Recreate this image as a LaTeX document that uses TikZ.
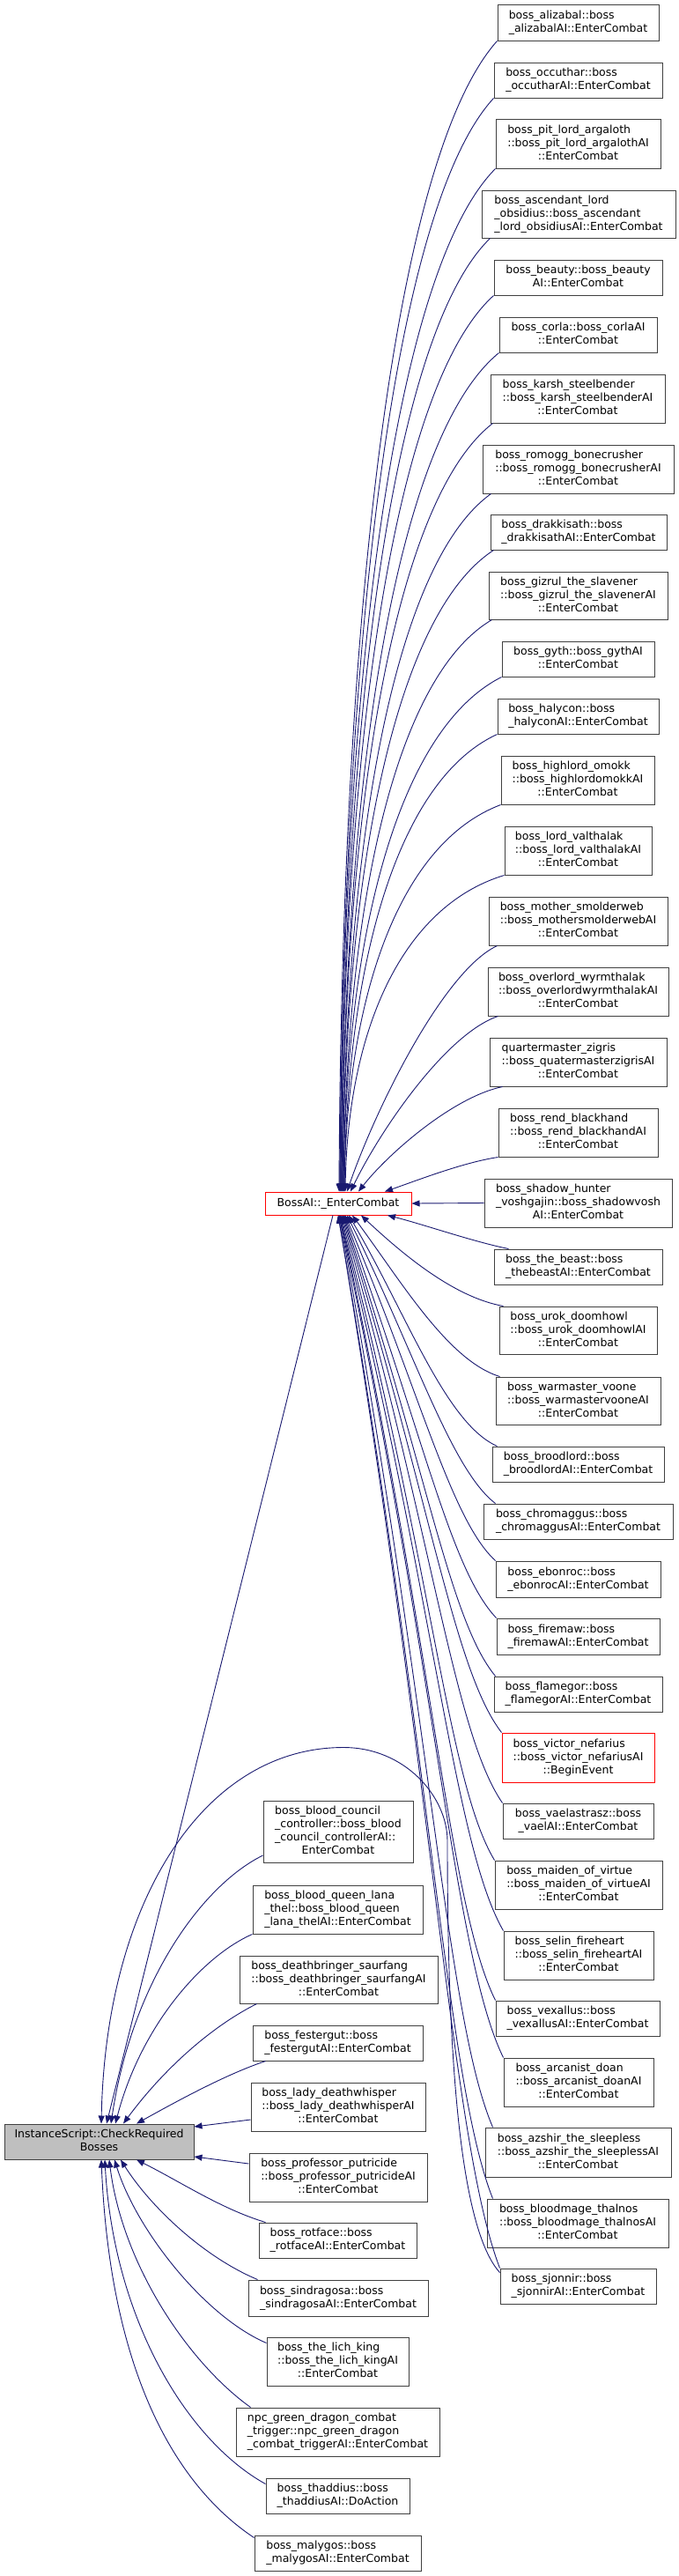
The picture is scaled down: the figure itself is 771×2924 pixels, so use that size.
\documentclass[tikz,border=0pt]{standalone}
\usepackage{fontspec}
\setmainfont{DejaVu Sans}
\usetikzlibrary{arrows.meta}
\definecolor{edgecol}{RGB}{25,25,112}
\definecolor{nodegray}{RGB}{191,191,191}
\newcommand\lbl[2]{\begin{tabular}{@{}l@{}}#1\\\multicolumn{1}{@{}c@{}}{#2}\end{tabular}}
\begin{document}
\begin{tikzpicture}[x=1pt,y=-1pt,
  box/.style={draw=black!75, line width=1pt, fill=white, inner sep=0pt, font=\fontsize{12.5}{15}\selectfont},
  redbox/.style={box, draw=red},
  graybox/.style={box, fill=nodegray},
  edge/.style={draw=edgecol, line width=0.9pt, arrows={Triangle[length=9pt,width=7pt]-}}]
\fill[white] (0,0) rectangle (771,2924);
\useasboundingbox (0,0) rectangle (771,2924);

% right column
\node[box, minimum width=183pt, minimum height=41pt] (n1) at (656.5,25.5) {\lbl{boss\_alizabal::boss}{\_alizabalAI::EnterCombat}};
\node[box, minimum width=191pt, minimum height=40pt] (n2) at (656.5,91) {\lbl{boss\_occuthar::boss}{\_occutharAI::EnterCombat}};
\node[box, minimum width=187pt, minimum height=56pt] (n3) at (656.5,163) {\lbl{boss\_pit\_lord\_argaloth\\::boss\_pit\_lord\_argalothAI}{::EnterCombat}};
\node[box, minimum width=220pt, minimum height=54pt] (n4) at (657,243) {\lbl{boss\_ascendant\_lord\\\_obsidius::boss\_ascendant}{\_lord\_obsidiusAI::EnterCombat}};
\node[box, minimum width=191pt, minimum height=40pt] (n5) at (656.5,315) {\lbl{boss\_beauty::boss\_beauty}{AI::EnterCombat}};
\node[box, minimum width=179pt, minimum height=40pt] (n6) at (656.5,380) {\lbl{boss\_corla::boss\_corlaAI}{::EnterCombat}};
\node[box, minimum width=198pt, minimum height=55pt] (n7) at (656,452.5) {\lbl{boss\_karsh\_steelbender\\::boss\_karsh\_steelbenderAI}{::EnterCombat}};
\node[box, minimum width=217pt, minimum height=55pt] (n8) at (656.5,532.5) {\lbl{boss\_romogg\_bonecrusher\\::boss\_romogg\_bonecrusherAI}{::EnterCombat}};
\node[box, minimum width=200pt, minimum height=40pt] (n9) at (657,604) {\lbl{boss\_drakkisath::boss}{\_drakkisathAI::EnterCombat}};
\node[box, minimum width=203pt, minimum height=54pt] (n10) at (656.5,676) {\lbl{boss\_gizrul\_the\_slavener\\::boss\_gizrul\_the\_slavenerAI}{::EnterCombat}};
\node[box, minimum width=173pt, minimum height=40pt] (n11) at (656.5,748) {\lbl{boss\_gyth::boss\_gythAI}{::EnterCombat}};
\node[box, minimum width=183pt, minimum height=40pt] (n12) at (656.5,813) {\lbl{boss\_halycon::boss}{\_halyconAI::EnterCombat}};
\node[box, minimum width=174pt, minimum height=55pt] (n13) at (656,885.5) {\lbl{boss\_highlord\_omokk\\::boss\_highlordomokkAI}{::EnterCombat}};
\node[box, minimum width=167pt, minimum height=55pt] (n14) at (656.5,965.5) {\lbl{boss\_lord\_valthalak\\::boss\_lord\_valthalakAI}{::EnterCombat}};
\node[box, minimum width=203pt, minimum height=55pt] (n15) at (656.5,1045.5) {\lbl{boss\_mother\_smolderweb\\::boss\_mothersmolderwebAI}{::EnterCombat}};
\node[box, minimum width=205pt, minimum height=55pt] (n16) at (656.5,1125.5) {\lbl{boss\_overlord\_wyrmthalak\\::boss\_overlordwyrmthalakAI}{::EnterCombat}};
\node[box, minimum width=201pt, minimum height=55pt] (n17) at (656.5,1205.5) {\lbl{quartermaster\_zigris\\::boss\_quatermasterzigrisAI}{::EnterCombat}};
\node[box, minimum width=181pt, minimum height=55pt] (n18) at (656.5,1285.5) {\lbl{boss\_rend\_blackhand\\::boss\_rend\_blackhandAI}{::EnterCombat}};
\node[box, minimum width=213pt, minimum height=55pt] (n19) at (656.5,1365.5) {\lbl{boss\_shadow\_hunter\\\_voshgajin::boss\_shadowvosh}{AI::EnterCombat}};
\node[box, minimum width=191pt, minimum height=40pt] (n20) at (656.5,1438) {\lbl{boss\_the\_beast::boss}{\_thebeastAI::EnterCombat}};
\node[box, minimum width=179pt, minimum height=54pt] (n21) at (656.5,1510) {\lbl{boss\_urok\_doomhowl\\::boss\_urok\_doomhowlAI}{::EnterCombat}};
\node[box, minimum width=187pt, minimum height=54pt] (n22) at (656.5,1590) {\lbl{boss\_warmaster\_voone\\::boss\_warmastervooneAI}{::EnterCombat}};
\node[box, minimum width=195pt, minimum height=40pt] (n23) at (656.5,1662) {\lbl{boss\_broodlord::boss}{\_broodlordAI::EnterCombat}};
\node[box, minimum width=215pt, minimum height=40pt] (n24) at (656.5,1727) {\lbl{boss\_chromaggus::boss}{\_chromaggusAI::EnterCombat}};
\node[box, minimum width=187pt, minimum height=41pt] (n25) at (656.5,1792.5) {\lbl{boss\_ebonroc::boss}{\_ebonrocAI::EnterCombat}};
\node[box, minimum width=185pt, minimum height=41pt] (n26) at (656.5,1857.5) {\lbl{boss\_firemaw::boss}{\_firemawAI::EnterCombat}};
\node[box, minimum width=191pt, minimum height=40pt] (n27) at (656.5,1923) {\lbl{boss\_flamegor::boss}{\_flamegorAI::EnterCombat}};
\node[redbox, minimum width=173pt, minimum height=56pt] (n28) at (656.5,1995) {\lbl{boss\_victor\_nefarius\\::boss\_victor\_nefariusAI}{::BeginEvent}};
\node[box, minimum width=171pt, minimum height=40pt] (n29) at (656.5,2067) {\lbl{boss\_vaelastrasz::boss}{\_vaelAI::EnterCombat}};
\node[box, minimum width=190pt, minimum height=55pt] (n30) at (657,2139.5) {\lbl{boss\_maiden\_of\_virtue\\::boss\_maiden\_of\_virtueAI}{::EnterCombat}};
\node[box, minimum width=170pt, minimum height=55pt] (n31) at (657,2219.5) {\lbl{boss\_selin\_fireheart\\::boss\_selin\_fireheartAI}{::EnterCombat}};
\node[box, minimum width=186pt, minimum height=40pt] (n32) at (656,2291) {\lbl{boss\_vexallus::boss}{\_vexallusAI::EnterCombat}};
\node[box, minimum width=170pt, minimum height=55pt] (n33) at (657,2363.5) {\lbl{boss\_arcanist\_doan\\::boss\_arcanist\_doanAI}{::EnterCombat}};
\node[box, minimum width=211pt, minimum height=56pt] (n34) at (656.5,2443) {\lbl{boss\_azshir\_the\_sleepless\\::boss\_azshir\_the\_sleeplessAI}{::EnterCombat}};
\node[box, minimum width=206pt, minimum height=55pt] (n35) at (656,2523.5) {\lbl{boss\_bloodmage\_thalnos\\::boss\_bloodmage\_thalnosAI}{::EnterCombat}};
\node[box, minimum width=177pt, minimum height=40pt] (n36) at (656.5,2595) {\lbl{boss\_sjonnir::boss}{\_sjonnirAI::EnterCombat}};

% central
\node[redbox, minimum width=166pt, minimum height=26pt] (boss) at (384,1366) {BossAI::\_EnterCombat};
\node[graybox, minimum width=215pt, minimum height=40pt] (inst) at (112.5,2431) {\lbl{InstanceScript::CheckRequired}{Bosses}};

% middle column
\node[box, minimum width=170pt, minimum height=70pt] (m1) at (384,2079) {\lbl{boss\_blood\_council\\\_controller::boss\_blood\\\_council\_controllerAI::}{EnterCombat}};
\node[box, minimum width=193pt, minimum height=55pt] (m2) at (383.5,2167.5) {\lbl{boss\_blood\_queen\_lana\\\_thel::boss\_blood\_queen}{\_lana\_thelAI::EnterCombat}};
\node[box, minimum width=225pt, minimum height=54pt] (m3) at (384.5,2247) {\lbl{boss\_deathbringer\_saurfang\\::boss\_deathbringer\_saurfangAI}{::EnterCombat}};
\node[box, minimum width=193pt, minimum height=40pt] (m4) at (383.5,2319) {\lbl{boss\_festergut::boss}{\_festergutAI::EnterCombat}};
\node[box, minimum width=198pt, minimum height=55pt] (m5) at (384,2391.5) {\lbl{boss\_lady\_deathwhisper\\::boss\_lady\_deathwhisperAI}{::EnterCombat}};
\node[box, minimum width=202pt, minimum height=55pt] (m6) at (384,2471.5) {\lbl{boss\_professor\_putricide\\::boss\_professor\_putricideAI}{::EnterCombat}};
\node[box, minimum width=179pt, minimum height=40pt] (m7) at (383.5,2543) {\lbl{boss\_rotface::boss}{\_rotfaceAI::EnterCombat}};
\node[box, minimum width=204pt, minimum height=41pt] (m8) at (384,2608.5) {\lbl{boss\_sindragosa::boss}{\_sindragosaAI::EnterCombat}};
\node[box, minimum width=161pt, minimum height=55pt] (m9) at (383.5,2680.5) {\lbl{boss\_the\_lich\_king\\::boss\_the\_lich\_kingAI}{::EnterCombat}};
\node[box, minimum width=231pt, minimum height=55pt] (m10) at (383.5,2760.5) {\lbl{npc\_green\_dragon\_combat\\\_trigger::npc\_green\_dragon}{\_combat\_triggerAI::EnterCombat}};
\node[box, minimum width=163pt, minimum height=40pt] (m11) at (383.5,2833) {\lbl{boss\_thaddius::boss}{\_thaddiusAI::DoAction}};
\node[box, minimum width=189pt, minimum height=40pt] (m12) at (383.5,2898) {\lbl{boss\_malygos::boss}{\_malygosAI::EnterCombat}};

% edges into BossAI from above
\draw[edge] ([xshift=1pt]boss.north) .. controls +(3,-654) and +(-117,131) .. (n1.south west);
\draw[edge] ([xshift=2pt]boss.north) .. controls +(3,-621) and +(-114,124) .. (n2.south west);
\draw[edge] ([xshift=2pt]boss.north) .. controls +(3,-581) and +(-115,116) .. (n3.south west);
\draw[edge] ([xshift=3pt]boss.north) .. controls +(3,-542) and +(-111,108) .. ([xshift=10pt]n4.south west);
\draw[edge] ([xshift=3pt]boss.north) .. controls +(3,-509) and +(-113,102) .. (n5.south west);
\draw[edge] ([xshift=4pt]boss.north) .. controls +(3,-477) and +(-116,95) .. (n6.south west);
\draw[edge] ([xshift=4pt]boss.north) .. controls +(3,-437) and +(-112,87) .. ([xshift=3pt]n7.south west);
\draw[edge] ([xshift=5pt]boss.north) .. controls +(3,-397) and +(-110,79) .. ([xshift=10pt]n8.south west);
\draw[edge] ([xshift=5pt]boss.north) .. controls +(3,-365) and +(-112,73) .. ([xshift=4pt]n9.south west);
\draw[edge] ([xshift=6pt]boss.north) .. controls +(3,-325) and +(-110,65) .. ([xshift=4pt]n10.south west);
\draw[edge] ([xshift=6pt]boss.north) .. controls +(3,-293) and +(-117,59) .. (n11.south west);
\draw[edge] ([xshift=7pt]boss.north) .. controls +(3,-260) and +(-113,52) .. (n12.south west);
\draw[edge] ([xshift=7pt]boss.north) .. controls +(3,-220) and +(-116,44) .. (n13.south west);
\draw[edge] ([xshift=8pt]boss.north) .. controls +(3,-180) and +(-118,36) .. (n14.south west);
\draw[edge] ([xshift=10pt]boss.north) .. controls +(34,-98) and +(-60,28) .. ([xshift=10pt]n15.south west);
\draw[edge] ([xshift=14pt]boss.north) .. controls +(34,-70) and +(-59,20) .. ([xshift=12pt]n16.south west);
\draw[edge] ([xshift=23pt]boss.north) .. controls +(33,-42) and +(-57,12) .. ([xshift=15pt]n17.south west);
\draw[edge] ([xshift=53pt]boss.north) .. controls +(35,-12) and +(-40,6) .. (n18.south west);
\draw[edge] (boss.east) -- (n19.west);

% edges into BossAI from below
\draw[edge] ([xshift=56pt]boss.south) .. controls +(40,10) and +(-40,-8) .. ([xshift=17pt]n20.north west);
\draw[edge] ([xshift=26pt]boss.south) .. controls +(45,42) and +(-57,-10) .. ([xshift=5pt]n21.north west);
\draw[edge] ([xshift=16pt]boss.south) .. controls +(55,74) and +(-59,-18) .. ([xshift=5pt]n22.north west);
\draw[edge] ([xshift=12pt]boss.south) .. controls +(65,110) and +(-59,-26) .. ([xshift=6pt]n23.north west);
\draw[edge] ([xshift=10pt]boss.south) .. controls +(75,150) and +(-51,-39) .. ([xshift=14pt]n24.north west);
\draw[edge] ([xshift=8pt]boss.south) .. controls +(85,200) and +(-51,-47) .. (n25.north west);
\draw[edge] ([xshift=7pt]boss.south) .. controls +(90,250) and +(-52,-55) .. (n26.north west);
\draw[edge] ([xshift=6pt]boss.south) .. controls +(95,290) and +(-52,-63) .. ([xshift=2pt]n27.north west);
\draw[edge] ([xshift=5pt]boss.south) .. controls +(100,325) and +(-54,-70) .. (n28.north west);
\draw[edge] ([xshift=4pt]boss.south) .. controls +(105,370) and +(-55,-80) .. (n29.north west);
\draw[edge] ([xshift=3pt]boss.south) .. controls +(105,405) and +(-53,-88) .. (n30.north west);
\draw[edge] ([xshift=2pt]boss.south) .. controls +(110,450) and +(-56,-98) .. (n31.north west);
\draw[edge] ([xshift=2pt]boss.south) .. controls +(106,490) and +(-53,-107) .. (n32.north west);
\draw[edge] ([xshift=1pt]boss.south) .. controls +(112,525) and +(-56,-115) .. (n33.north west);
\draw[edge] ([xshift=1pt]boss.south) .. controls +(105,570) and +(-53,-124) .. ([xshift=9pt]n34.north west);
\draw[edge] (boss.south) .. controls +(106,615) and +(-53,-134) .. ([xshift=7pt]n35.north west);
\draw[edge] (boss.south) .. controls +(110,658) and +(-55,-144) .. (n36.north west);

% edges into InstanceScript
\draw[edge] ([xshift=8.5pt]inst.north) -- ([xshift=-6pt]boss.south);
\draw[edge] ([xshift=2.5pt]inst.north) .. controls +(5,-250) and +(-160,0) .. ++(275,-427)
  .. controls +(70,0) and +(0,-50) .. ++(118,106)
  .. controls +(0,250) and +(-45,-50) .. ([yshift=-5pt]n36.north west);
\draw[edge] ([xshift=13.5pt]inst.north) .. controls +(24,-161) and +(-69,34) .. ([yshift=-27pt]m1.west);
\draw[edge] ([xshift=18.5pt]inst.north) .. controls +(29,-111) and +(-57,25) .. (m2.south west);
\draw[edge] ([xshift=27.5pt]inst.north) .. controls +(45,-61) and +(-52,26) .. ([xshift=20pt]m3.south west);
\draw[edge] ([xshift=42.5pt]inst.north) .. controls +(45,-25) and +(-45,15) .. ([xshift=15pt]m4.south west);
\draw[edge] ([yshift=17pt]inst.east) -- ([yshift=-14.5pt]m5.west);
\draw[edge] ([yshift=-17pt]inst.east) -- ([yshift=15.5pt]m6.west);
\draw[edge] ([xshift=42.5pt]inst.south) .. controls +(50,25) and +(-50,-15) .. ([xshift=8pt]m7.north west);
\draw[edge] ([xshift=24.5pt]inst.south) .. controls +(35,55) and +(-60,-25) .. ([xshift=11pt]m8.north west);
\draw[edge] ([xshift=17.5pt]inst.south) .. controls +(25,80) and +(-70,-30) .. ([yshift=-7pt]m9.north west);
\draw[edge] ([xshift=11.5pt]inst.south) .. controls +(15,120) and +(-70,-50) .. ([xshift=17pt]m10.north west);
\draw[edge] ([xshift=6.5pt]inst.south) .. controls +(10,180) and +(-90,-50) .. ([yshift=-7pt]m11.north west);
\draw[edge] ([xshift=2.5pt]inst.south) .. controls +(10,240) and +(-90,-60) .. ([yshift=-3pt]m12.north west);
\end{tikzpicture}
\end{document}
